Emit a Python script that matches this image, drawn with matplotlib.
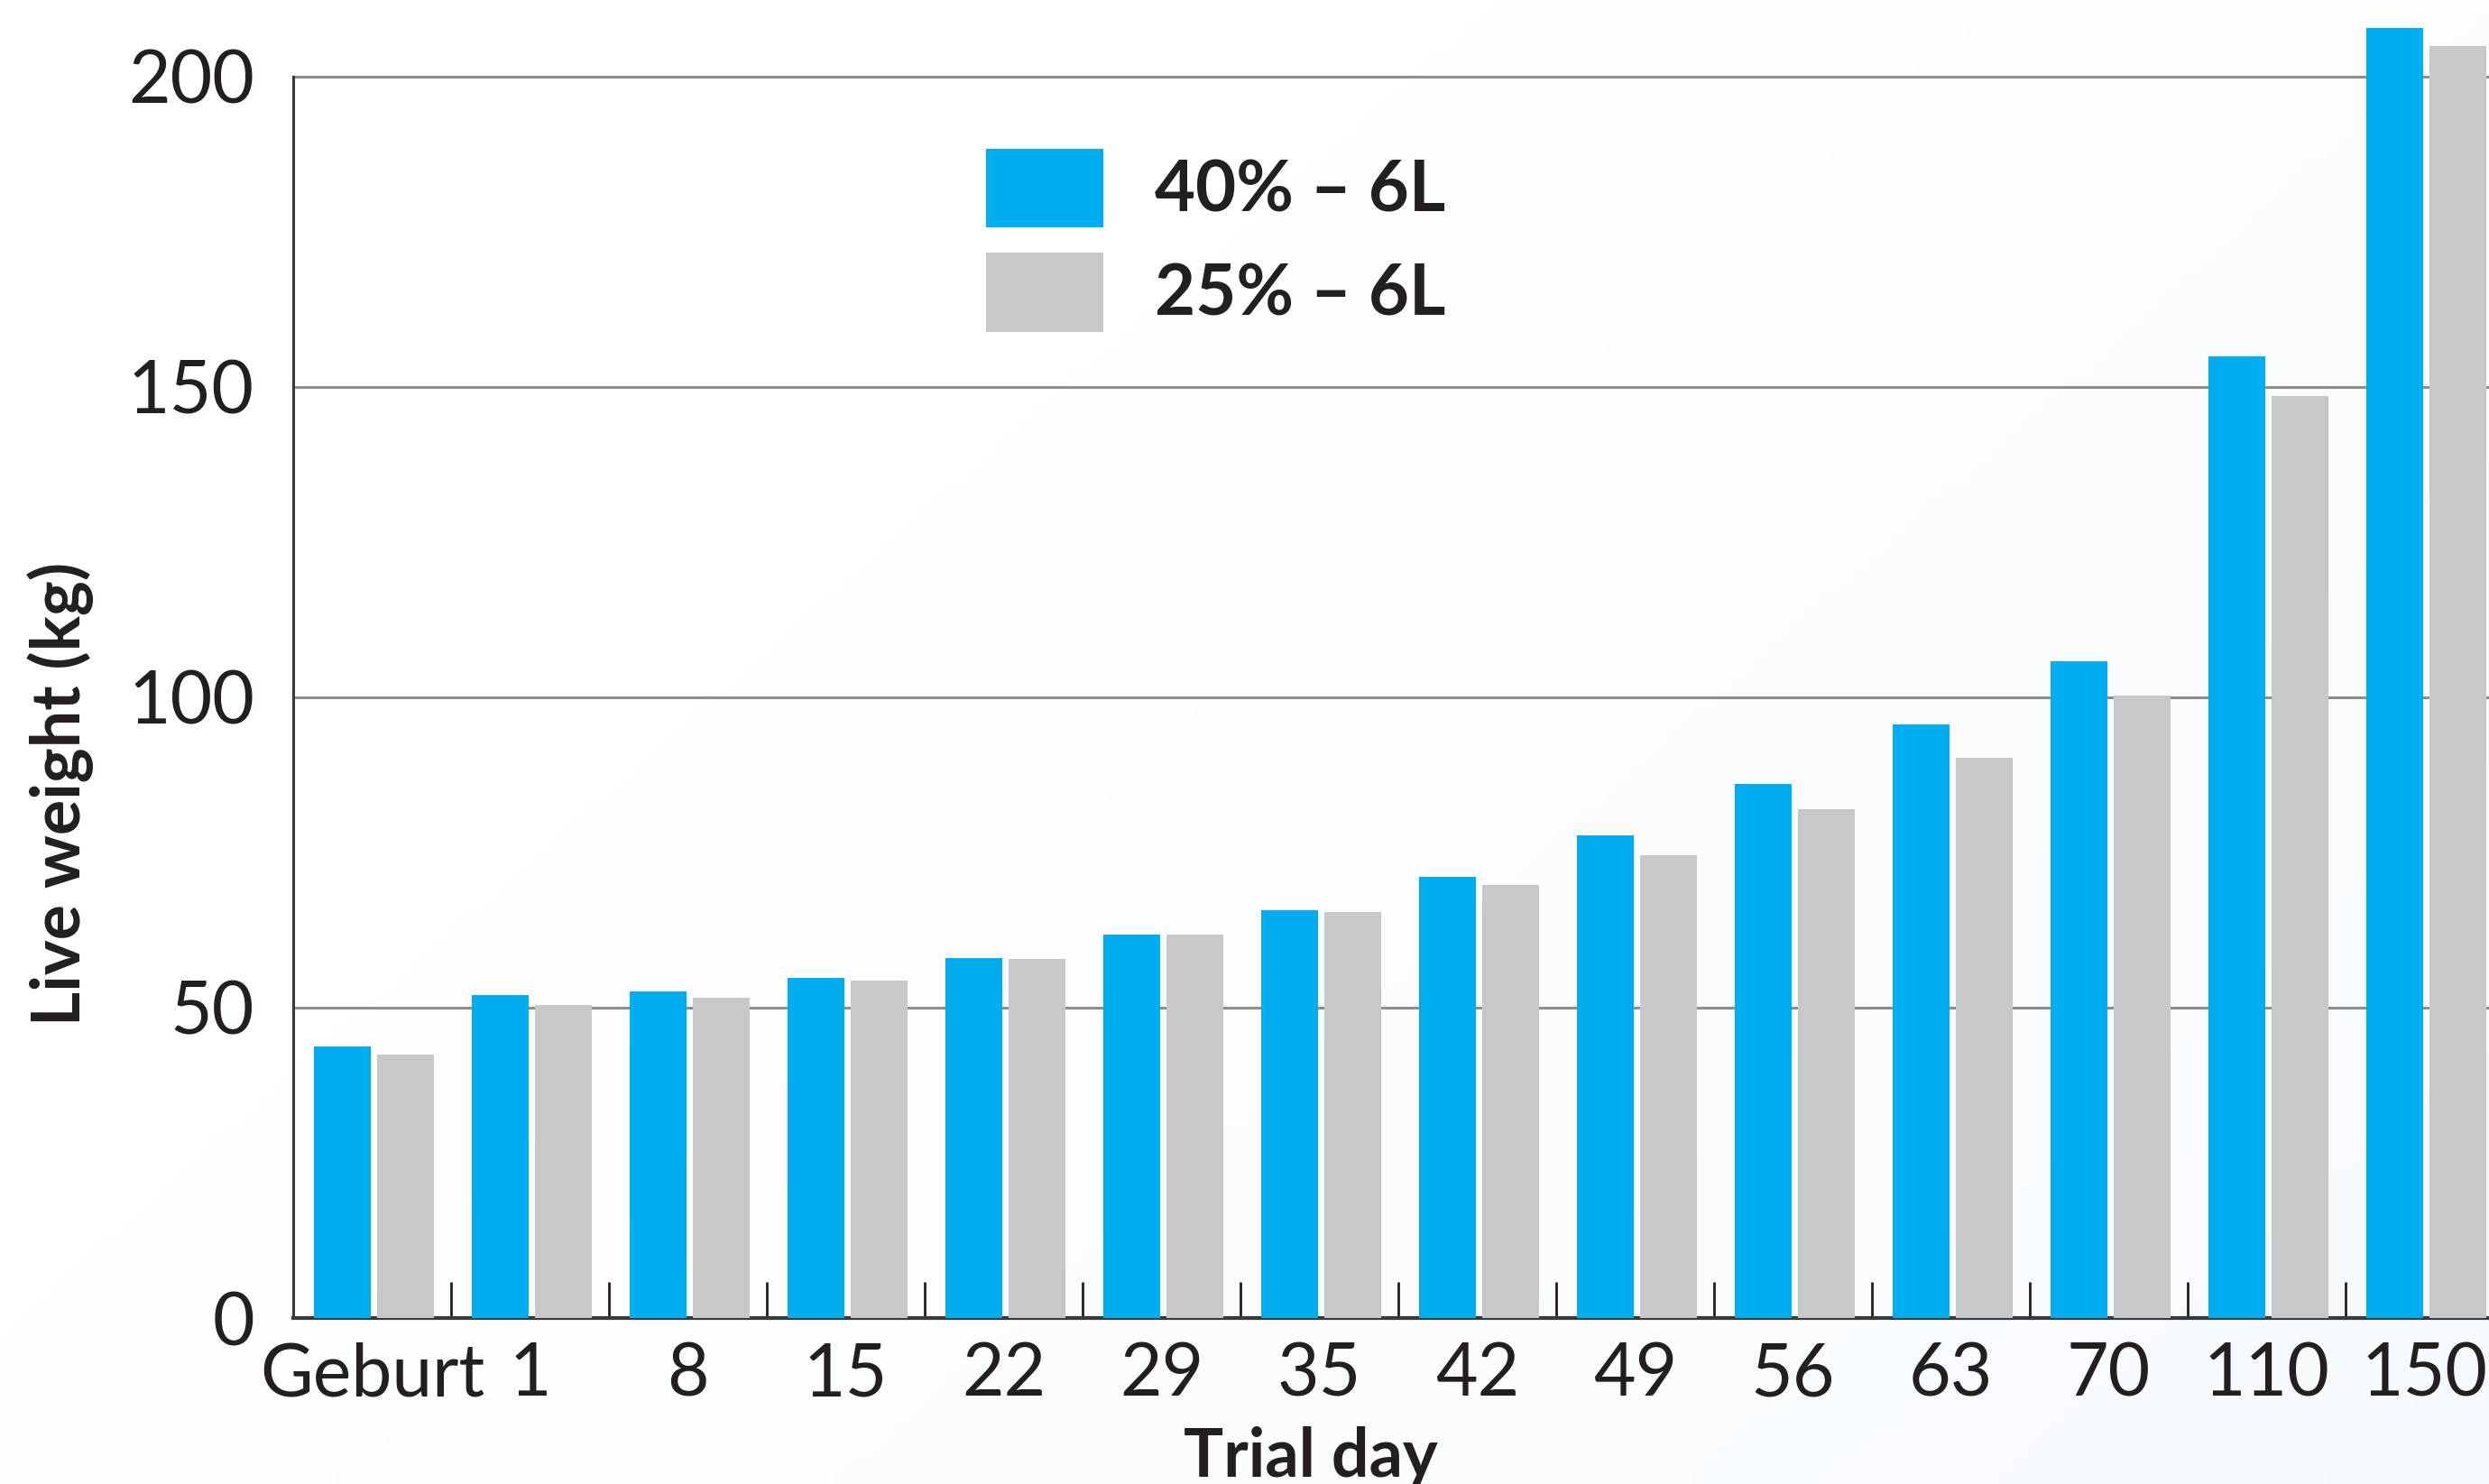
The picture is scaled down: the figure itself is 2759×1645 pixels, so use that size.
import numpy as np
import matplotlib.pyplot as plt
from matplotlib.ticker import FixedLocator

# live weight per trial day, two feeding groups
days = ["Geburt", "1", "8", "15", "22", "29", "35", "42", "49", "56", "63", "70", "110", "150"]
weight_40 = [43.8, 52.0, 52.6, 54.8, 58.0, 61.8, 65.7, 71.1, 77.8, 86.0, 95.6, 105.8, 155.0, 207.9]
weight_25 = [42.4, 50.4, 51.6, 54.4, 57.9, 61.8, 65.4, 69.8, 74.5, 82.0, 90.3, 100.3, 148.5, 204.9]
series_names = ["40% – 6L", "25% – 6L"]
y_ticks = [0, 50, 100, 150, 200]

BLUE = "#00aeef"
GREY = "#c7c8ca"
INK = "#231f20"

plt.rcParams["font.family"] = ["Lato", "DejaVu Sans"]

fig = plt.figure(figsize=(27.59, 16.45), dpi=100)

# faint light-blue wash towards the lower right
bg = fig.add_axes([0, 0, 1, 1], zorder=-10)
gx, gy = np.meshgrid(np.linspace(0, 1, 200), np.linspace(0, 1, 120))
t = np.clip(0.75 * gx + 0.5 * gy - 0.45, 0, 1)[..., None]
top = np.array([1.0, 1.0, 1.0])
low = np.array([0.958, 0.974, 0.988])
bg.imshow(top + (low - top) * t, aspect="auto", extent=[0, 1, 0, 1], origin="upper")
bg.set_axis_off()

ax = fig.add_axes([325 / 2759, 184 / 1645, 2450 / 2759, 1458.6 / 1645])
ax.set_facecolor("none")

x = np.arange(len(days))
width = 0.36
b1 = ax.bar(x - 0.19, weight_40, width, color=BLUE, label=series_names[0], zorder=3)
b2 = ax.bar(x + 0.21, weight_25, width, color=GREY, label=series_names[1], zorder=3)

ax.set_xlim(-0.5, len(days) - 0.5)
ax.set_ylim(0, 212)

ax.set_yticks(y_ticks)
ax.set_yticklabels([str(v) for v in y_ticks])
ax.yaxis.grid(True, color="#8e8e8e", linewidth=2.2)
ax.set_axisbelow(True)
ax.tick_params(axis="y", length=0, pad=31, labelsize=58, labelcolor=INK)

ax.set_xticks(x)
ax.set_xticklabels(days)
ax.tick_params(axis="x", which="major", length=0, pad=19, labelsize=58, labelcolor=INK)
ax.xaxis.set_minor_locator(FixedLocator(x[:-1] + 0.5))
ax.tick_params(axis="x", which="minor", direction="in", length=29, width=2, color=INK)

for side in ["top", "right"]:
    ax.spines[side].set_visible(False)
ax.spines["left"].set_bounds(0, 200)
ax.spines["left"].set_color("#3a3a3a")
ax.spines["left"].set_linewidth(2.2)
ax.spines["bottom"].set_color("#3a3a3a")
ax.spines["bottom"].set_linewidth(3)

fig.text(1453 / 2759, 8 / 1645, "Trial day", ha="center", va="baseline",
         fontsize=53, fontweight="bold", color=INK)
fig.text(67 / 2759, 1 - 880 / 1645, "Live weight (kg)", ha="center", va="center",
         rotation=90, fontsize=53, fontweight="bold", color=INK)

fig.legend(handles=[b1, b2], loc="upper left", bbox_to_anchor=(1093 / 2759, 1 - 165 / 1645),
           frameon=False, prop={"size": 56, "weight": "bold"}, labelcolor=INK,
           handlelength=1.67, handleheight=1.35, handletextpad=0.73, labelspacing=0.36,
           borderpad=0, borderaxespad=0)

fig.savefig("out.png", dpi=100)
